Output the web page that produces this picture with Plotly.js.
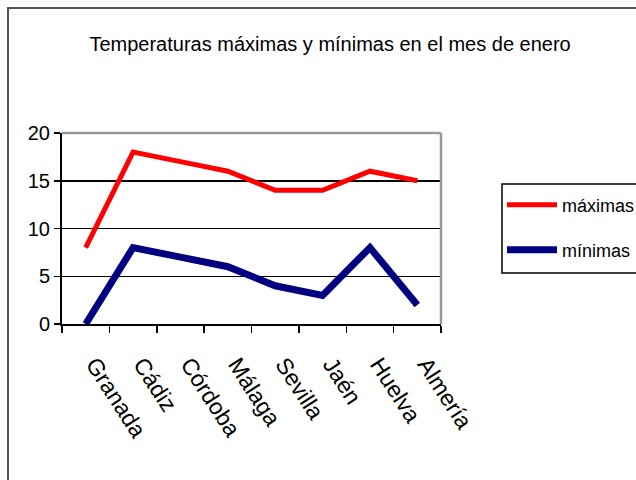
<!DOCTYPE html>
<html><head><meta charset="utf-8">
<script src="https://cdn.plot.ly/plotly-3.0.1.min.js"></script>
<style>
html,body{margin:0;padding:0;background:#fff;}
#frame{position:absolute;left:7px;top:7px;width:640px;height:480px;border-left:2px solid #555;border-top:2px solid #555;}
#chart{position:absolute;left:0;top:0;width:636px;height:480px;}
</style></head>
<body>
<div id="frame"></div>
<div id="chart"></div>
<script>
const categories = ["Granada","Cádiz","Córdoba","Málaga","Sevilla","Jaén","Huelva","Almería"];
const maximas = [8, 18, 17, 16, 14, 14, 16, 15];
const minimas = [0, 8, 7, 6, 4, 3, 8, 2];
const yTicks = [0, 5, 10, 15, 20];

const F = '"Liberation Sans Narrow", "Arial Narrow", "Liberation Sans", Arial, sans-serif';

const data = [
  {x: categories, y: maximas, name: "máximas", type: "scatter", mode: "lines",
   line: {color: "#ff0000", width: 5}, legend: "legend"},
  {x: categories, y: minimas, name: "mínimas", type: "scatter", mode: "lines",
   line: {color: "#000080", width: 7}, legend: "legend2"}
];

const legendBase = {xanchor: "left", yanchor: "middle", bgcolor: "rgba(0,0,0,0)",
  borderwidth: 0, font: {family: F, size: 18, color: "#000"}, itemwidth: 50};

const layout = {
  width: 636, height: 480,
  paper_bgcolor: "rgba(0,0,0,0)", plot_bgcolor: "#fff",
  margin: {l: 62, r: 195, t: 133, b: 156, autoexpand: false},
  title: {text: "Temperaturas máximas y mínimas en el mes de enero",
          font: {family: F, size: 20, color: "#000"}, x: 0.519, xanchor: "center", y: 0.908, yanchor: "middle"},
  xaxis: {type: "category", tickson: "boundaries", ticks: "outside", ticklen: 7, tickwidth: 1.5, tickcolor: "#000",
          showline: true, linecolor: "#000", linewidth: 2, showgrid: false, zeroline: false,
          tickangle: 57, ticklabelstandoff: 16, ticklabelshift: 9, tickfont: {family: F, size: 23, color: "#000"},
          range: [-0.5, 7.5], fixedrange: true, automargin: false},
  yaxis: {range: [0, 20], tickvals: yTicks, ticks: "outside", ticklen: 6, tickwidth: 1.5, tickcolor: "#000",
          showline: true, linecolor: "#000", linewidth: 2, showgrid: true, gridcolor: "#000", gridwidth: 1.5,
          zeroline: false, tickfont: {family: F, size: 20, color: "#000"}, fixedrange: true, automargin: false},
  shapes: [
    {type: "line", xref: "paper", yref: "paper", x0: 0, x1: 1, y0: 1, y1: 1, line: {color: "#999", width: 2.5}, layer: "above"},
    {type: "line", xref: "paper", yref: "paper", x0: 1, x1: 1, y0: 0, y1: 1, line: {color: "#999", width: 2.5}, layer: "above"},
    {type: "rect", xref: "paper", yref: "paper", x0: 1.161, x1: 1.53, y0: 0.267, y1: 0.733,
     line: {color: "#000", width: 1.5}, fillcolor: "rgba(0,0,0,0)", layer: "above"}
  ],
  showlegend: true,
  legend: Object.assign({x: 1.161, y: 0.623}, legendBase),
  legend2: Object.assign({x: 1.161, y: 0.387}, legendBase)
};

Plotly.newPlot("chart", data, layout, {displayModeBar: false, staticPlot: true});
</script>
</body></html>
